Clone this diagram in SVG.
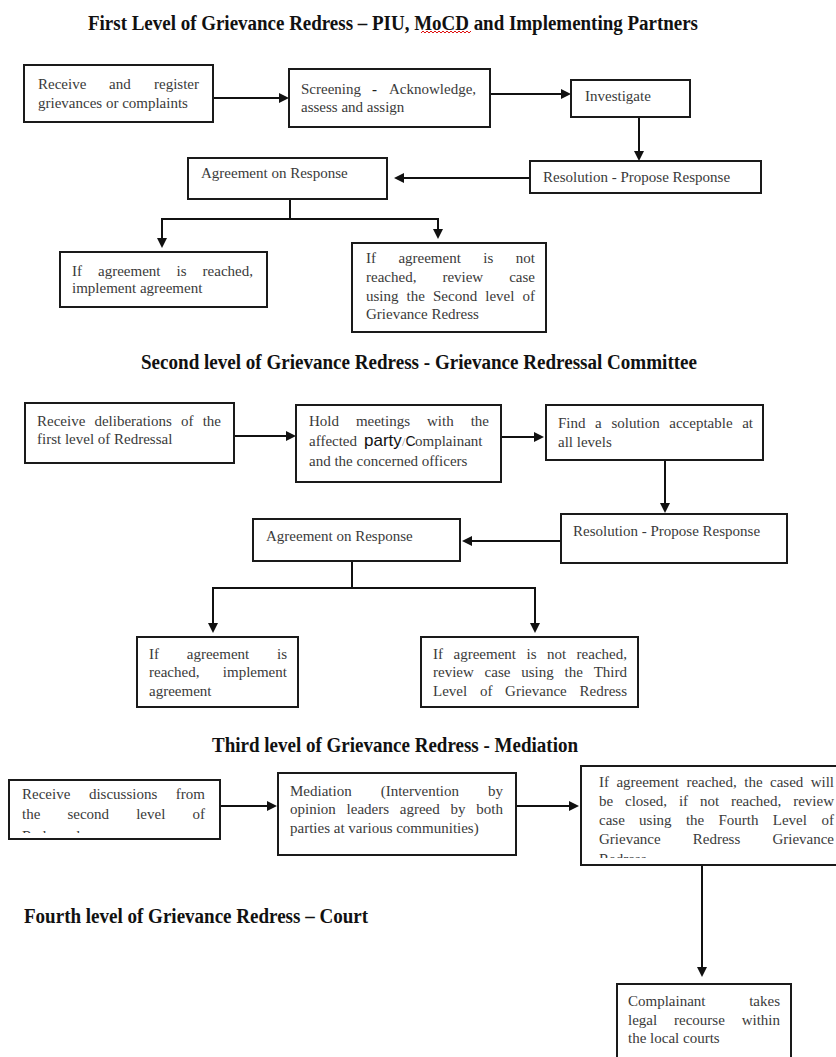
<svg xmlns="http://www.w3.org/2000/svg" width="836" height="1057" viewBox="0 0 836 1057">
<style>
.bg{fill:#fff}
.box{fill:#fff;stroke:#1a1a1a;stroke-width:2}
.t{font-family:"Liberation Serif","Times New Roman",serif;font-size:15px;fill:#3a3a3a}
.title{font-family:"Liberation Serif","Times New Roman",serif;font-size:20px;font-weight:bold;fill:#111}
.ln{fill:none;stroke:#111;stroke-width:2}
</style>
<defs>
<marker id="ah" markerUnits="userSpaceOnUse" markerWidth="10" markerHeight="10" refX="0" refY="5" orient="auto">
<path d="M0,0 L10,5 L0,10 z" fill="#111"/>
</marker>
<clipPath id="clipC1"><rect x="9" y="780" width="211" height="53"/></clipPath>
<clipPath id="clipC3"><rect x="581" y="766" width="260" height="92"/></clipPath>
</defs>
<rect class="bg" x="0" y="0" width="836" height="1057"/>

<!-- Titles -->
<text class="title" x="88" y="30" textLength="610" lengthAdjust="spacingAndGlyphs">First Level of Grievance Redress – PIU, MoCD and Implementing Partners</text>
<polyline points="421,33 423,31 425,33 427,31 429,33 431,31 433,33 435,31 437,33 439,31 441,33 443,31 445,33 447,31 449,33 451,31 453,33 455,31 457,33 459,31 461,33 463,31 465,33 467,31 469,33 471,31" fill="none" stroke="#e01010" stroke-width="1"/>
<text class="title" x="141" y="369" textLength="556" lengthAdjust="spacingAndGlyphs">Second level of Grievance Redress - Grievance Redressal Committee</text>
<text class="title" x="212" y="752" textLength="366" lengthAdjust="spacingAndGlyphs">Third level of Grievance Redress - Mediation</text>
<text class="title" x="24" y="923" textLength="344" lengthAdjust="spacingAndGlyphs">Fourth level of Grievance Redress – Court</text>

<!-- Connectors -->
<g id="connectors">
<line class="ln" x1="213" y1="98" x2="279" y2="98" marker-end="url(#ah)"/>
<line class="ln" x1="490" y1="94" x2="561" y2="94" marker-end="url(#ah)"/>
<line class="ln" x1="639" y1="117" x2="639" y2="151" marker-end="url(#ah)"/>
<line class="ln" x1="530" y1="178" x2="404" y2="178" marker-end="url(#ah)"/>
<polyline class="ln" points="290,199 290,219"/>
<polyline class="ln" points="162,238 162,219 438,219 438,229"/>
<line class="ln" x1="162" y1="237" x2="162" y2="238" marker-end="url(#ah)"/>
<line class="ln" x1="438" y1="228" x2="438" y2="229" marker-end="url(#ah)"/>

<line class="ln" x1="234" y1="436" x2="286" y2="436" marker-end="url(#ah)"/>
<line class="ln" x1="501" y1="437" x2="534" y2="437" marker-end="url(#ah)"/>
<line class="ln" x1="665" y1="460" x2="665" y2="503" marker-end="url(#ah)"/>
<line class="ln" x1="561" y1="541" x2="472" y2="541" marker-end="url(#ah)"/>
<polyline class="ln" points="352,562 352,588"/>
<polyline class="ln" points="213,623 213,588 535,588 535,623"/>
<line class="ln" x1="213" y1="622" x2="213" y2="623" marker-end="url(#ah)"/>
<line class="ln" x1="535" y1="622" x2="535" y2="623" marker-end="url(#ah)"/>

<line class="ln" x1="220" y1="806" x2="267" y2="806" marker-end="url(#ah)"/>
<line class="ln" x1="516" y1="806" x2="569" y2="806" marker-end="url(#ah)"/>
<line class="ln" x1="702" y1="866" x2="702" y2="967" marker-end="url(#ah)"/>
</g>

<!-- Level 1 -->
<g id="a1">
<rect class="box" x="24" y="65" width="189" height="57"/>
<text class="t" y="89"><tspan x="38">Receive</tspan><tspan x="109">and</tspan><tspan x="154">register</tspan></text>
<text class="t" x="38" y="108">grievances or complaints</text>
</g>
<g id="a2">
<rect class="box" x="289" y="69" width="201" height="58"/>
<text class="t" y="94"><tspan x="301">Screening</tspan><tspan x="372" font-weight="bold" fill="#222">-</tspan><tspan x="389">Acknowledge,</tspan></text>
<text class="t" x="301" y="112">assess and assign</text>
</g>
<g id="a3">
<rect class="box" x="571" y="80" width="119" height="37"/>
<text class="t" x="585" y="101">Investigate</text>
</g>
<g id="a4">
<rect class="box" x="530" y="161" width="231" height="32"/>
<text class="t" x="543" y="182">Resolution - Propose Response</text>
</g>
<g id="a5">
<rect class="box" x="188" y="158" width="199" height="41"/>
<text class="t" x="201" y="178">Agreement on Response</text>
</g>
<g id="a6">
<rect class="box" x="60" y="252" width="207" height="55"/>
<text class="t" y="276"><tspan x="72">If</tspan><tspan x="98">agreement</tspan><tspan x="176.5">is</tspan><tspan x="202.6">reached,</tspan></text>
<text class="t" x="72" y="293">implement agreement</text>
</g>
<g id="a7">
<rect class="box" x="352" y="243" width="194" height="89"/>
<text class="t" y="263"><tspan x="366">If</tspan><tspan x="398.4">agreement</tspan><tspan x="483.3">is</tspan><tspan x="515.8">not</tspan></text>
<text class="t" y="282"><tspan x="366">reached,</tspan><tspan x="442.4">review</tspan><tspan x="509.2">case</tspan></text>
<text class="t" y="301"><tspan x="366">using</tspan><tspan x="406.6">the</tspan><tspan x="433">Second</tspan><tspan x="485.3">level</tspan><tspan x="522.5">of</tspan></text>
<text class="t" x="366" y="319">Grievance Redress</text>
</g>

<!-- Level 2 -->
<g id="b1">
<rect class="box" x="25" y="403" width="209" height="60"/>
<text class="t" y="426"><tspan x="37">Receive</tspan><tspan x="94.4">deliberations</tspan><tspan x="181">of</tspan><tspan x="202.7">the</tspan></text>
<text class="t" x="37" y="444">first level of Redressal</text>
</g>
<g id="b2">
<rect class="box" x="296" y="405" width="205" height="77"/>
<text class="t" y="426"><tspan x="309">Hold</tspan><tspan x="355.9">meetings</tspan><tspan x="427">with</tspan><tspan x="470.7">the</tspan></text>
<text class="t" y="446"><tspan x="309">affected</tspan><tspan x="364" font-family="Liberation Sans, Arial, sans-serif" font-size="17" fill="#111">party</tspan><tspan x="402" font-size="12" fill="#888">/</tspan><tspan x="405.5" font-family="Liberation Sans, Arial, sans-serif" font-size="14" fill="#111">C</tspan><tspan x="415">omplainant</tspan></text>
<text class="t" x="309" y="466">and the concerned officers</text>
</g>
<g id="b3">
<rect class="box" x="546" y="405" width="217" height="55"/>
<text class="t" y="428"><tspan x="558">Find</tspan><tspan x="595.1">a</tspan><tspan x="611.4">solution</tspan><tspan x="669.3">acceptable</tspan><tspan x="742.2">at</tspan></text>
<text class="t" x="558" y="447">all levels</text>
</g>
<g id="b4">
<rect class="box" x="561" y="514" width="226" height="49"/>
<text class="t" x="573" y="536">Resolution - Propose Response</text>
</g>
<g id="b5">
<rect class="box" x="253" y="519" width="207" height="42"/>
<text class="t" x="266" y="541">Agreement on Response</text>
</g>
<g id="b6">
<rect class="box" x="137" y="637" width="161" height="70"/>
<text class="t" y="659"><tspan x="149">If</tspan><tspan x="186.8">agreement</tspan><tspan x="277">is</tspan></text>
<text class="t" y="677"><tspan x="149">reached,</tspan><tspan x="222.8">implement</tspan></text>
<text class="t" x="149" y="696">agreement</text>
</g>
<g id="b7">
<rect class="box" x="421" y="637" width="217" height="70"/>
<text class="t" y="659"><tspan x="433">If</tspan><tspan x="453.5">agreement</tspan><tspan x="526.5">is</tspan><tspan x="547">not</tspan><tspan x="576.6">reached,</tspan></text>
<text class="t" y="677"><tspan x="433">review</tspan><tspan x="484.6">case</tspan><tspan x="521.2">using</tspan><tspan x="564.5">the</tspan><tspan x="593.7">Third</tspan></text>
<text class="t" y="696"><tspan x="433">Level</tspan><tspan x="479.9">of</tspan><tspan x="505.1">Grievance</tspan><tspan x="579.5">Redress</tspan></text>
</g>

<!-- Level 3 -->
<g id="c1">
<rect class="box" x="9" y="780" width="211" height="59"/>
<text class="t" y="799"><tspan x="22">Receive</tspan><tspan x="88.9">discussions</tspan><tspan x="175.8">from</tspan></text>
<text class="t" y="819"><tspan x="22">the</tspan><tspan x="67.4">second</tspan><tspan x="136.2">level</tspan><tspan x="192.5">of</tspan></text>
<text class="t" x="22" y="841" clip-path="url(#clipC1)">Redressal</text>
</g>
<g id="c2">
<rect class="box" x="278" y="773" width="238" height="82"/>
<text class="t" y="796"><tspan x="290">Mediation</tspan><tspan x="380.7">(Intervention</tspan><tspan x="488">by</tspan></text>
<text class="t" y="814"><tspan x="290">opinion</tspan><tspan x="346.6">leaders</tspan><tspan x="399.8">agreed</tspan><tspan x="450.6">by</tspan><tspan x="476.3">both</tspan></text>
<text class="t" x="290" y="833">parties at various communities)</text>
</g>
<g id="c3">
<rect class="box" x="581" y="766" width="262" height="99"/>
<text class="t" y="787"><tspan x="599">If</tspan><tspan x="616.4">agreement</tspan><tspan x="686.4">reached,</tspan><tspan x="744.3">the</tspan><tspan x="770">cased</tspan><tspan x="810.7">will</tspan></text>
<text class="t" y="806"><tspan x="599">be</tspan><tspan x="625">closed,</tspan><tspan x="678.9">if</tspan><tspan x="699.9">not</tspan><tspan x="730.9">reached,</tspan><tspan x="793.2">review</tspan></text>
<text class="t" y="825"><tspan x="599">case</tspan><tspan x="639.1">using</tspan><tspan x="685.9">the</tspan><tspan x="718.5">Fourth</tspan><tspan x="772.8">Level</tspan><tspan x="821.5">of</tspan></text>
<text class="t" y="844"><tspan x="599">Grievance</tspan><tspan x="692.8">Redress</tspan><tspan x="772.4">Grievance</tspan></text>
<text class="t" x="599" y="864" clip-path="url(#clipC3)">Redress</text>
</g>

<!-- Level 4 -->
<g id="d1">
<rect class="box" x="617" y="984" width="174" height="80"/>
<text class="t" y="1006"><tspan x="628">Complainant</tspan><tspan x="749.2">takes</tspan></text>
<text class="t" y="1025"><tspan x="628">legal</tspan><tspan x="674">recourse</tspan><tspan x="741.7">within</tspan></text>
<text class="t" x="628" y="1043">the local courts</text>
</g>
</svg>
